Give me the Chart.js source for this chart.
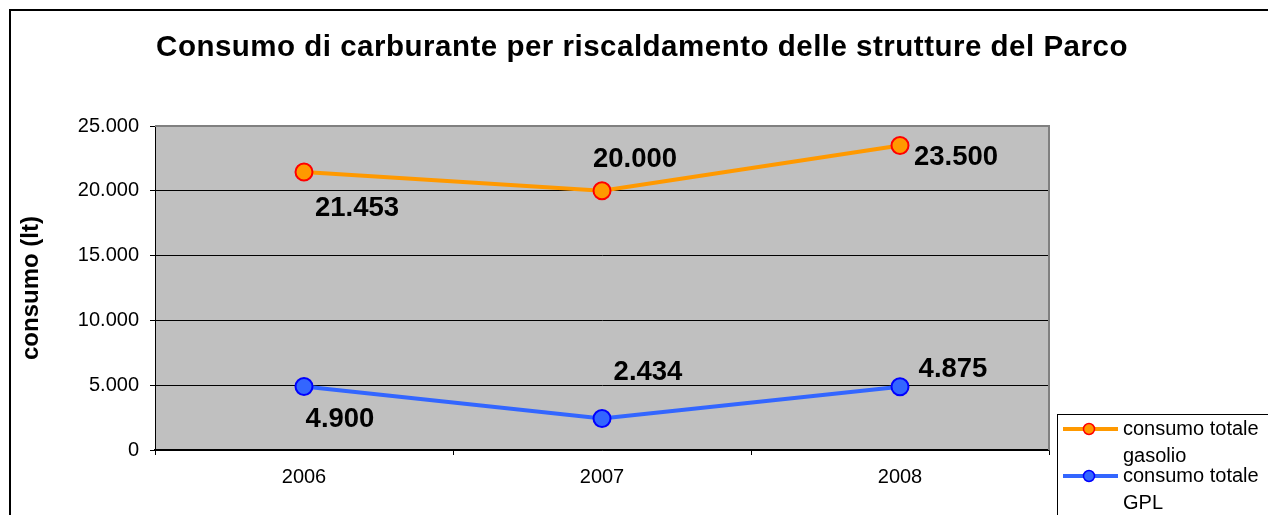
<!DOCTYPE html>
<html>
<head>
<meta charset="utf-8">
<script src="https://cdn.jsdelivr.net/npm/chart.js@4.4.1/dist/chart.umd.min.js"></script>
<style>
html,body{margin:0;padding:0;background:#fff;}
#wrap{position:relative;width:1268px;height:515px;}
</style>
</head>
<body>
<div id="wrap"><canvas id="c" width="1268" height="515"></canvas></div>
<script>
// ---- data ----
const categories = ['2006', '2007', '2008'];
const gasolio = [21453, 20000, 23500];
const gpl = [4900, 2434, 4875];
const seriesNames = ['consumo totale gasolio', 'consumo totale GPL'];
const chartTitle = 'Consumo di carburante per riscaldamento delle strutture del Parco';
const yAxisTitle = 'consumo (lt)';
const yMin = 0, yMax = 25000, yStep = 5000;

const FONT = '"Liberation Sans", Arial, Helvetica, sans-serif';
function fmt(v) {
  return String(Math.round(v)).replace(/\B(?=(\d{3})+(?!\d))/g, '.');
}

const frame = {
  id: 'frame',
  beforeDraw(chart) {
    const ctx = chart.ctx, a = chart.chartArea;
    ctx.save();
    ctx.fillStyle = '#ffffff';
    ctx.fillRect(0, 0, chart.width, chart.height);
    // outer border (left + top visible)
    ctx.strokeStyle = '#000';
    ctx.lineWidth = 2;
    ctx.beginPath();
    ctx.moveTo(10, chart.height + 5);
    ctx.lineTo(10, 10);
    ctx.lineTo(chart.width + 5, 10);
    ctx.stroke();
    // plot background
    ctx.fillStyle = '#c0c0c0';
    ctx.fillRect(a.left, a.top, a.right - a.left, a.bottom - a.top);
    ctx.restore();
  },
  beforeDatasetsDraw(chart) {
    const ctx = chart.ctx, a = chart.chartArea;
    ctx.save();
    ctx.strokeStyle = '#808080';
    ctx.lineWidth = 2;
    ctx.beginPath();
    ctx.moveTo(a.left, a.top);
    ctx.lineTo(a.right, a.top);
    ctx.lineTo(a.right, a.bottom);
    ctx.stroke();
    ctx.restore();
  },
  afterDraw(chart) {
    const ctx = chart.ctx;
    ctx.save();
    // title
    ctx.fillStyle = '#000';
    ctx.font = 'bold 29.5px ' + FONT;
    if ('letterSpacing' in ctx) ctx.letterSpacing = '0.5px';
    ctx.textAlign = 'center';
    ctx.textBaseline = 'middle';
    ctx.fillText(chartTitle, 642, 48);
    ctx.restore();
  }
};

const pointLabels = {
  id: 'pointLabels',
  afterDatasetsDraw(chart, args, opts) {
    const ctx = chart.ctx;
    ctx.save();
    ctx.fillStyle = '#000';
    ctx.font = 'bold 27.5px ' + FONT;
    ctx.textAlign = 'center';
    ctx.textBaseline = 'middle';
    chart.data.datasets.forEach((ds, di) => {
      const meta = chart.getDatasetMeta(di);
      meta.data.forEach((pt, i) => {
        const off = opts.offsets[di][i];
        ctx.fillText(fmt(ds.data[i]), pt.x + off[0], pt.y + off[1]);
      });
    });
    ctx.restore();
  }
};

const customLegend = {
  id: 'customLegend',
  afterDraw(chart, args, opts) {
    const ctx = chart.ctx;
    const x0 = opts.x, y0 = opts.y;
    ctx.save();
    ctx.fillStyle = '#fff';
    ctx.fillRect(x0, y0, chart.width - x0 + 5, chart.height - y0 + 5);
    ctx.strokeStyle = '#000';
    ctx.lineWidth = 1;
    ctx.strokeRect(x0 + 0.5, y0 + 0.5, chart.width - x0 + 5, chart.height - y0 + 5);
    ctx.font = '20px ' + FONT;
    ctx.textBaseline = 'middle';
    ctx.textAlign = 'left';
    let y = y0 + 15;
    chart.data.datasets.forEach((ds) => {
      // wrap label
      const words = ds.label.split(' ');
      const lines = [];
      let cur = '';
      words.forEach(w => {
        const t = cur ? cur + ' ' + w : w;
        if (ctx.measureText(t).width > opts.maxTextWidth && cur) { lines.push(cur); cur = w; }
        else cur = t;
      });
      if (cur) lines.push(cur);
      // sample line
      ctx.strokeStyle = ds.borderColor;
      ctx.lineWidth = 4;
      ctx.beginPath();
      ctx.moveTo(x0 + 6, y);
      ctx.lineTo(x0 + 61, y);
      ctx.stroke();
      ctx.beginPath();
      ctx.arc(x0 + 32, y, 5.5, 0, Math.PI * 2);
      ctx.fillStyle = ds.pointBackgroundColor;
      ctx.fill();
      ctx.lineWidth = 1.5;
      ctx.strokeStyle = ds.pointBorderColor;
      ctx.stroke();
      ctx.fillStyle = '#000';
      lines.forEach((ln, k) => {
        ctx.fillText(ln, x0 + 66, y + k * 27);
      });
      y += 47;
    });
    ctx.restore();
  }
};

new Chart(document.getElementById('c'), {
  type: 'line',
  data: {
    labels: categories,
    datasets: [
      {
        label: seriesNames[0],
        data: gasolio,
        borderColor: '#ff9900',
        backgroundColor: '#ff9900',
        borderWidth: 4,
        pointRadius: 8.5,
        pointBackgroundColor: '#ff9900',
        pointBorderColor: '#ff0000',
        pointBorderWidth: 2,
        tension: 0
      },
      {
        label: seriesNames[1],
        data: gpl,
        borderColor: '#3366ff',
        backgroundColor: '#3366ff',
        borderWidth: 4,
        pointRadius: 8.5,
        pointBackgroundColor: '#3366ff',
        pointBorderColor: '#0000ff',
        pointBorderWidth: 2,
        tension: 0
      }
    ]
  },
  options: {
    responsive: false,
    animation: false,
    devicePixelRatio: 1,
    layout: { padding: { left: 0, right: 219, top: 126, bottom: 0 } },
    plugins: {
      legend: { display: false },
      tooltip: { enabled: false },
      title: { display: false },
      pointLabels: {
        offsets: [
          [[53, 36], [33, -31], [56, 12]],
          [[36, 33], [46, -46], [53, -17]]
        ]
      },
      customLegend: { x: 1057, y: 414, maxTextWidth: 145 }
    },
    scales: {
      x: {
        offset: true,
        afterFit(s) { s.height = 65; },
        grid: {
          offset: true,
          drawOnChartArea: false,
          drawTicks: true,
          tickLength: 5,
          color: '#000',
          lineWidth: 1
        },
        border: { display: true, color: '#000', width: 1.5 },
        ticks: {
          color: '#000',
          font: { family: FONT, size: 20 },
          padding: 10,
          maxRotation: 0
        }
      },
      y: {
        min: yMin,
        max: yMax,
        afterFit(s) { s.width = 155; },
        grid: {
          drawTicks: true,
          tickLength: 5,
          color: (c) => (c.tick && c.tick.value === yMax ? 'rgba(0,0,0,0)' : '#000'),
          tickColor: '#000',
          lineWidth: 1
        },
        border: { display: true, color: '#000', width: 1 },
        ticks: {
          stepSize: yStep,
          color: '#000',
          font: { family: FONT, size: 20 },
          padding: 11,
          callback: (v) => fmt(v)
        },
        title: {
          display: true,
          text: yAxisTitle,
          color: '#000',
          font: { family: FONT, size: 24, weight: 'bold' },
          padding: { top: 17, bottom: 0 }
        }
      }
    }
  },
  plugins: [frame, pointLabels, customLegend]
});
</script>
</body>
</html>
